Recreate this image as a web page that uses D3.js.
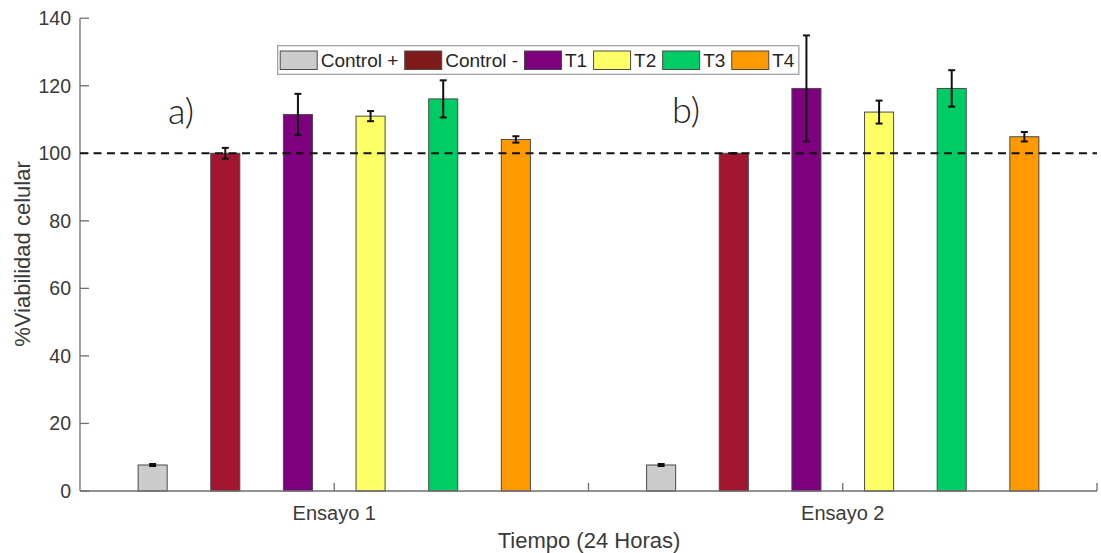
<!DOCTYPE html>
<html>
<head>
<meta charset="utf-8">
<script src="https://cdn.jsdelivr.net/npm/d3@7"></script>
<style>
  body { margin: 0; background: #fff; }
  svg { display: block; font-family: "Liberation Sans", Arial, sans-serif; }
</style>
</head>
<body>
<svg id="chart" width="1101" height="553"></svg>
<script>
// data
var categories = ["Ensayo 1", "Ensayo 2"]
var series = ["Control +", "Control -", "T1", "T2", "T3", "T4"]
var ensayo1 = [7.7, 100, 111.5, 111.0, 116.1, 104.1]
var err1 = [0.3, 1.6, 6.1, 1.5, 5.5, 0.95]
var ensayo2 = [7.7, 100, 119.2, 112.2, 119.2, 104.9]
var err2 = [0.3, 0, 15.7, 3.4, 5.4, 1.4]
var yTicks = [0, 20, 40, 60, 80, 100, 120, 140]
var xTicks = [1, 1.5, 2, 2.5]
var panelLabels = ["a)", "b)"]

var barColors = ["#cccccc", "#a2162f", "#7d007e", "#ffff66", "#00cc66", "#ff9900"]
var legendColors = ["#cccccc", "#7e1a1a", "#7d007e", "#ffff66", "#00cc66", "#ff9900"]

var svg = d3.select("#chart")

var x = d3.scaleLinear().domain([0.5, 2.5]).range([80, 1097])
var y = d3.scaleLinear().domain([0, 140]).range([491, 18.2])
var step = 1 / 7, bw = 0.4 / 7

var rows = []
var vals = [ensayo1, ensayo2], errs = [err1, err2]
categories.forEach(function(c, g) {
  series.forEach(function(s, i) {
    rows.push({g: g + 1, i: i, v: vals[g][i], e: errs[g][i]})
  })
})

// axes
var axisCol = "#6e6e6e", textCol = "#3a3a3a"
svg.append("line").attr("x1", x(0.5)).attr("x2", x(0.5)).attr("y1", y(0)).attr("y2", y(140))
   .attr("stroke", axisCol).attr("stroke-width", 1.3)

svg.selectAll(".yt").data(yTicks).enter().append("line")
   .attr("x1", x(0.5)).attr("x2", x(0.5) + 9).attr("y1", d => y(d)).attr("y2", d => y(d))
   .attr("stroke", axisCol).attr("stroke-width", 1.3)
svg.selectAll(".yl").data(yTicks).enter().append("text")
   .attr("x", 71).attr("y", d => y(d)).attr("dy", "0.36em")
   .attr("text-anchor", "end").attr("font-size", 19.5).attr("fill", textCol)
   .text(d => d)

svg.selectAll(".xt").data(xTicks).enter().append("line")
   .attr("x1", d => x(d)).attr("x2", d => x(d)).attr("y1", y(0)).attr("y2", y(0) - 8)
   .attr("stroke", axisCol).attr("stroke-width", 1.3)
svg.selectAll(".xl").data(categories).enter().append("text")
   .attr("x", (d, i) => x(i + 1)).attr("y", 520)
   .attr("text-anchor", "middle").attr("font-size", 20).attr("fill", textCol)
   .text(d => d)

svg.append("text").attr("x", 589).attr("y", 548).attr("text-anchor", "middle")
   .attr("font-size", 22).attr("fill", textCol).text("Tiempo (24 Horas)")
svg.append("text").attr("transform", "translate(30,254) rotate(-90)")
   .attr("text-anchor", "middle").attr("font-size", 22).attr("fill", textCol)
   .text("%Viabilidad celular")

// bars
svg.selectAll(".bar").data(rows).enter().append("rect")
   .attr("x", d => x(d.g + (d.i - 2.5) * step - bw / 2))
   .attr("width", d => x(bw) - x(0))
   .attr("y", d => y(d.v))
   .attr("height", d => y(0) - y(d.v))
   .attr("fill", d => barColors[d.i])
   .attr("stroke", "#4a4a4a").attr("stroke-width", 1)

// x axis baseline over the bars
svg.append("line").attr("x1", x(0.5)).attr("x2", x(2.5)).attr("y1", y(0)).attr("y2", y(0))
   .attr("stroke", axisCol).attr("stroke-width", 1.3)

// reference line at 100
svg.append("line").attr("x1", x(0.5)).attr("x2", x(2.5)).attr("y1", y(100)).attr("y2", y(100))
   .attr("stroke", "#111").attr("stroke-width", 2).attr("stroke-dasharray", "8,5.5")

// error bars
var eb = svg.selectAll(".err").data(rows).enter().append("g")
   .attr("stroke", "#111").attr("stroke-width", 2)
eb.append("line")
   .attr("x1", d => x(d.g + (d.i - 2.5) * step)).attr("x2", d => x(d.g + (d.i - 2.5) * step))
   .attr("y1", d => y(d.v - d.e)).attr("y2", d => y(d.v + d.e))
eb.selectAll("line.cap").data(d => [d.v - d.e, d.v + d.e].map(v => ({c: d.g + (d.i - 2.5) * step, v: v})))
  .enter().append("line").attr("class", "cap")
  .attr("x1", d => x(d.c) - 3.5).attr("x2", d => x(d.c) + 3.5)
  .attr("y1", d => y(d.v)).attr("y2", d => y(d.v))

// panel labels
svg.selectAll(".pl").data(panelLabels).enter().append("text")
   .attr("x", (d, i) => [168, 672][i]).attr("y", (d, i) => [124, 123][i])
   .attr("font-family", "Lato, 'DejaVu Sans', sans-serif").attr("font-weight", 300)
   .attr("font-size", 36).attr("fill", "#222").text(d => d)

// legend
var lg = svg.append("g")
var lx = 277.7, ly = 45.7, lh = 28.6
var box = lg.append("rect").attr("x", lx).attr("y", ly).attr("height", lh)
   .attr("fill", "#fff").attr("stroke", "#9a9a9a").attr("stroke-width", 1.2)
var cx = lx + 2.5
series.forEach(function(s, i) {
  lg.append("rect").attr("x", cx).attr("y", ly + 5.3).attr("width", 37).attr("height", 18.5)
    .attr("fill", legendColors[i]).attr("stroke", "#4a4a4a").attr("stroke-width", 1)
  var t = lg.append("text").attr("x", cx + 40.5).attr("y", ly + lh / 2).attr("dy", "0.36em")
    .attr("font-size", 19).attr("fill", "#262626").text(s)
  cx += 40.5 + t.node().getComputedTextLength() + 6.4
})
box.attr("width", cx - lx - 2)
</script>
</body>
</html>
